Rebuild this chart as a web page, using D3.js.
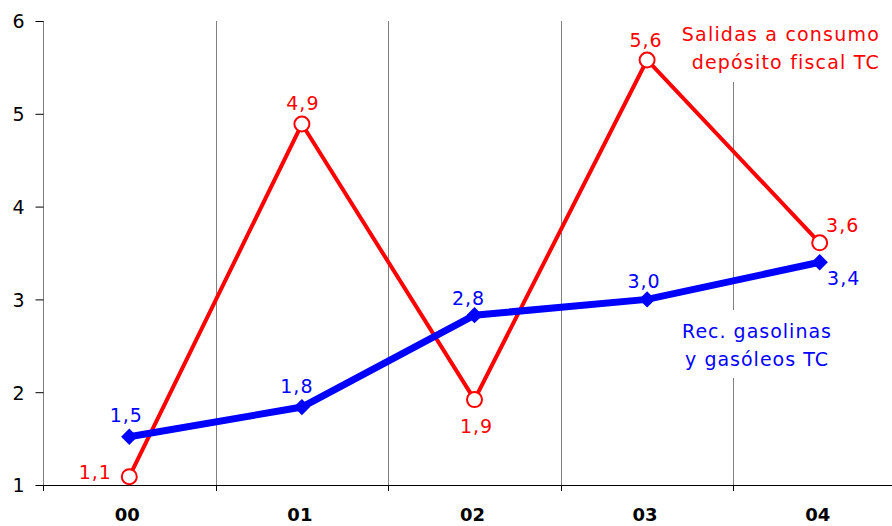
<!DOCTYPE html>
<html><head><meta charset="utf-8">
<script src="https://cdn.jsdelivr.net/npm/d3@7"></script>
<style>html,body{margin:0;padding:0;background:#fff;overflow:hidden}svg{display:block;font-family:"DejaVu Sans",Verdana,sans-serif}</style>
</head><body>
<svg id="c" width="892" height="526"></svg>
<script>
const categories = ["00","01","02","03","04"];
const blueValues = [1.52,1.84,2.83,3.0,3.4];
const redValues = [1.09,4.89,1.92,5.58,3.61];
const blueLabels = ["1,5","1,8","2,8","3,0","3,4"];
const redLabels = ["1,1","4,9","1,9","5,6","3,6"];
const yTicks = [1,2,3,4,5,6];
const redTitle = ["Salidas a consumo","depósito fiscal TC"];
const blueTitle = ["Rec. gasolinas","y gasóleos TC"];

const FS = 19;
const svg = d3.select("#c");
const x = d3.scaleBand().domain(categories).range([43,906]);
const y = d3.scaleLinear().domain([1,6]).range([485,21]);
const cx = d => x(d) + x.bandwidth()/2;

// gridlines at band boundaries
const bounds = categories.slice(1).map(c => x(c));
svg.append("g").selectAll("line").data(bounds).join("line")
  .attr("x1",d=>Math.round(d)+0.5).attr("x2",d=>Math.round(d)+0.5).attr("y1",y(6)).attr("y2",491)
  .attr("stroke","#808080").attr("stroke-width",1);

// y axis
const ya = svg.append("g").attr("transform","translate(43.5,0)")
  .call(d3.axisLeft(y).tickValues(yTicks).tickSize(8).tickPadding(11).tickFormat(d3.format("d")));
ya.select(".domain").attr("stroke","#808080").attr("d","M0,"+(y(6))+"V491");
ya.selectAll(".tick line").attr("stroke","#000");
ya.selectAll("text").attr("font-size",FS).attr("fill","#000").attr("font-family","DejaVu Sans").attr("dy","0.36em");

// x axis
svg.append("line").attr("x1",43).attr("x2",892).attr("y1",485.5).attr("y2",485.5).attr("stroke","#000");
svg.append("g").selectAll("line").data([43].concat(bounds)).join("line")
  .attr("x1",d=>Math.round(d)+0.5).attr("x2",d=>Math.round(d)+0.5).attr("y1",485).attr("y2",491).attr("stroke","#000");
const xa = svg.append("g").attr("transform","translate(0,485)")
  .call(d3.axisBottom(x).tickSize(0).tickPadding(0));
xa.select(".domain").remove();
xa.selectAll("text").attr("y",36).attr("dy",0).attr("dx",-2)
  .attr("font-size",18).attr("font-weight","bold").attr("fill","#000").attr("font-family","DejaVu Sans");

// legend boxes (white, hide gridline)
svg.append("rect").attr("x",676).attr("y",0).attr("width",210).attr("height",82).attr("fill","#fff");
svg.append("rect").attr("x",676).attr("y",310).attr("width",165).attr("height",68).attr("fill","#fff");
svg.append("g").selectAll("text").data(redTitle).join("text")
  .attr("x",880).attr("y",(d,i)=>41+i*28).attr("text-anchor","end")
  .attr("fill","#ff0000").attr("font-size",FS).attr("letter-spacing",1.2).text(d=>d);
svg.append("g").selectAll("text").data(blueTitle).join("text")
  .attr("x",757).attr("y",(d,i)=>338+i*28).attr("text-anchor","middle")
  .attr("fill","#0000ff").attr("font-size",FS).attr("letter-spacing",1).text(d=>d);

const line = d3.line().x((d,i)=>cx(categories[i])).y(d=>y(d));

// red series
svg.append("path").datum(redValues).attr("d",line).attr("fill","none")
  .attr("stroke","#ff0000").attr("stroke-width",4).attr("stroke-linejoin","miter");
// blue series
svg.append("path").datum(blueValues).attr("d",line).attr("fill","none")
  .attr("stroke","#0000ff").attr("stroke-width",7);
svg.append("g").selectAll("path").data(blueValues).join("path")
  .attr("d",d3.symbol(d3.symbolDiamond2 || d3.symbolSquare2, 170)())
  .attr("transform",(d,i)=>`translate(${cx(categories[i])},${y(d)}) rotate(${d3.symbolDiamond2?0:45})`)
  .attr("fill","#0000ff");
svg.append("g").selectAll("circle").data(redValues).join("circle")
  .attr("cx",(d,i)=>cx(categories[i])).attr("cy",d=>y(d)).attr("r",7.5)
  .attr("fill","#fff").attr("stroke","#ff0000").attr("stroke-width",2);

// data labels (offsets to baseline)
const blueOff = [[-3,-15],[-5,-14],[-6,-10],[-3,-11],[24,23]];
const redOff = [[-34,2],[1,-14],[2,33],[-1,-13],[23,-11]];
svg.append("g").selectAll("text").data(blueValues).join("text")
  .attr("x",(d,i)=>cx(categories[i])+blueOff[i][0]).attr("y",(d,i)=>y(d)+blueOff[i][1])
  .attr("text-anchor","middle").attr("fill","#0000ff").attr("font-size",FS).attr("letter-spacing",1).text((d,i)=>blueLabels[i]);
svg.append("g").selectAll("text").data(redValues).join("text")
  .attr("x",(d,i)=>cx(categories[i])+redOff[i][0]).attr("y",(d,i)=>y(d)+redOff[i][1])
  .attr("text-anchor","middle").attr("fill","#ff0000").attr("font-size",FS).attr("letter-spacing",1).text((d,i)=>redLabels[i]);
</script>
</body></html>
